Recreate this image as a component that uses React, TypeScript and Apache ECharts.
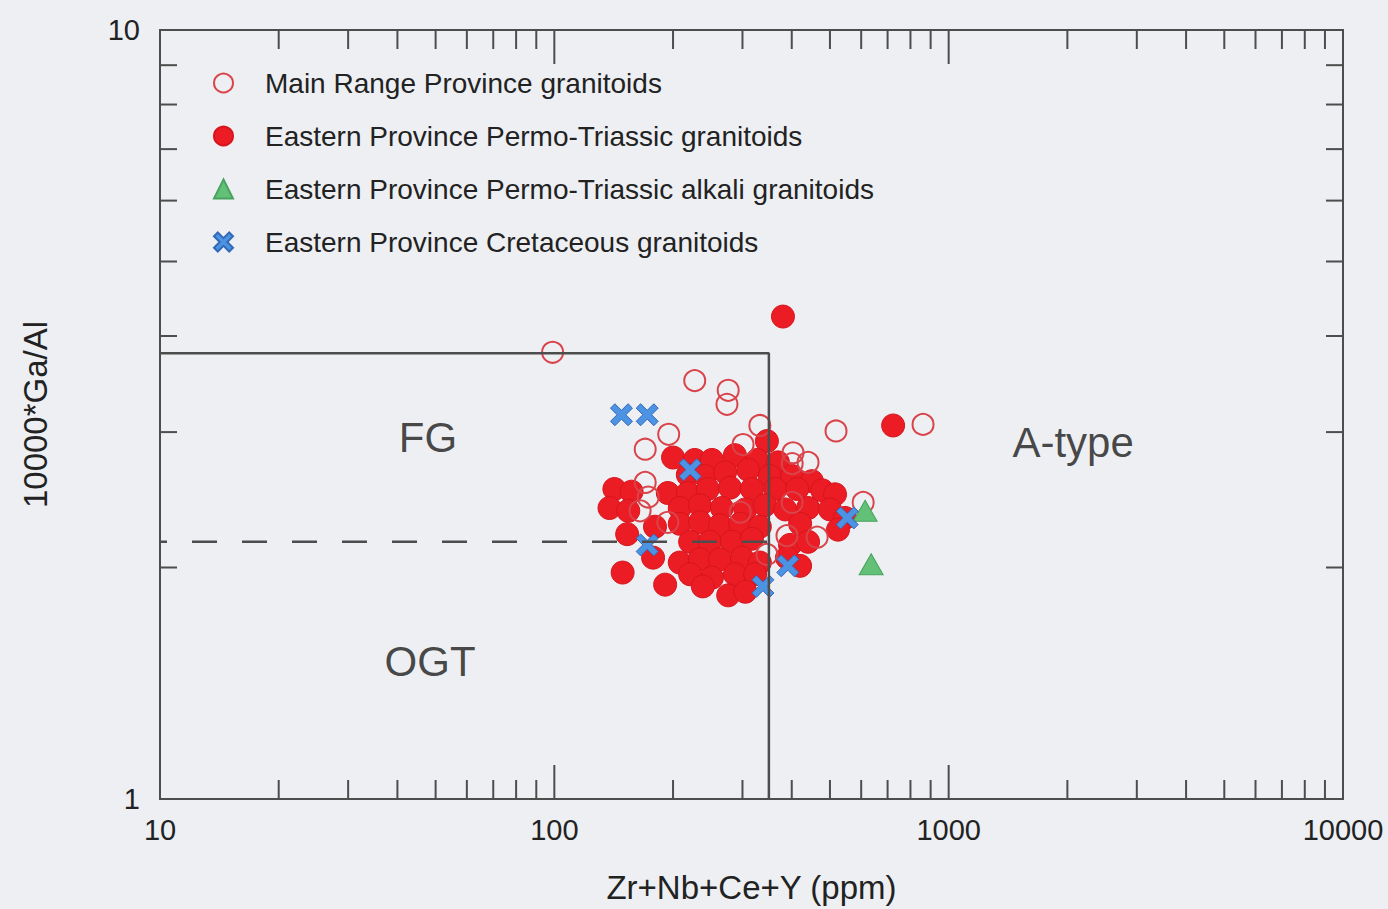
import React, { useEffect, useRef } from "react";
import * as echarts from "echarts";

const FONT = "'Liberation Sans', Arial, Helvetica, sans-serif";

// Series names
const seriesNames = [
  "Main Range Province granitoids",
  "Eastern Province Permo-Triassic granitoids",
  "Eastern Province Permo-Triassic alkali granitoids",
  "Eastern Province Cretaceous granitoids",
];

// [Zr+Nb+Ce+Y (ppm), 10000*Ga/Al]
const mainRange = [
  [99, 3.81], [227, 3.5], [276, 3.4], [274, 3.26], [332, 3.06], [195, 2.98],
  [170, 2.85], [518, 3.01], [861, 3.07], [301, 2.89], [403, 2.82], [440, 2.74],
  [401, 2.73], [170, 2.58], [173, 2.47], [165, 2.37], [194, 2.29], [607, 2.43],
  [464, 2.19], [389, 2.2], [346, 2.08], [401, 2.43], [296, 2.36],
];

const easternPT = [
  [380, 4.24], [723, 3.06],
  [346, 2.92],
  [200, 2.78], [227, 2.76], [251, 2.76], [287, 2.8], [327, 2.76], [369, 2.74],
  [218, 2.64], [241, 2.63], [271, 2.66], [310, 2.68], [352, 2.63], [401, 2.63], [450, 2.59],
  [142, 2.53], [157, 2.51], [194, 2.5], [218, 2.5], [245, 2.53], [279, 2.54], [317, 2.53],
  [363, 2.53], [413, 2.53], [478, 2.52], [515, 2.49],
  [138, 2.39], [154, 2.37], [208, 2.39], [234, 2.41], [266, 2.39], [305, 2.38], [342, 2.41],
  [385, 2.38], [440, 2.39], [500, 2.38], [546, 2.32],
  [180, 2.26], [208, 2.28], [234, 2.29], [263, 2.27], [296, 2.28], [332, 2.26], [420, 2.28], [524, 2.24],
  [153, 2.21], [221, 2.16], [248, 2.16], [282, 2.16], [317, 2.18], [396, 2.14], [440, 2.16],
  [178, 2.06], [208, 2.03], [234, 2.05], [263, 2.05], [299, 2.06], [332, 2.03], [389, 2.06], [420, 2.01],
  [149, 1.97], [191, 1.9], [221, 1.96], [251, 1.94], [287, 1.96], [323, 1.96],
  [238, 1.89], [276, 1.84], [305, 1.86],
];

const easternAlkali = [
  [614, 2.37], [636, 2.02],
];

const easternCret = [
  [148, 3.16], [172, 3.16], [221, 2.68], [172, 2.14], [553, 2.32], [391, 2.01], [338, 1.89],
];

// Field boundaries
const fgBoundary = [[10, 3.8], [350, 3.8], [350, 1]];
const ogtBoundary = [[10, 2.16], [350, 2.16]];

// Field labels
const fieldLabels = [
  { name: "FG", value: [47.8, 2.95] },
  { name: "OGT", value: [48.4, 1.508] },
  { name: "A-type", value: [2068, 2.905] },
];

// Tick positions
const xMinorTicks = [20, 30, 40, 50, 60, 70, 80, 90, 200, 300, 400, 500, 600, 700, 800, 900,
  2000, 3000, 4000, 5000, 6000, 7000, 8000, 9000];
const xMajorTicks = [100, 1000];
const yMinorTicks = [2, 3, 4, 5, 6, 7, 8, 9];

const CROSS = "path://M2,0 L5,3 L8,0 L10,2 L7,5 L10,8 L8,10 L5,7 L2,10 L0,8 L3,5 L0,2 Z";
const AXIS_COLOR = "#4d4d4d";
const TEXT_COLOR = "#222222";

export default function App() {
  const ref = useRef<HTMLDivElement>(null);

  useEffect(() => {
    if (!ref.current) return;
    const chart = echarts.init(ref.current, null, { renderer: "svg" });

    const xTickData = [
      ...xMinorTicks.map((v) => [v, 1, 0]),
      ...xMajorTicks.map((v) => [v, 1, 1]),
    ];
    const yTickData = yMinorTicks.map((v) => [10, v, 0]);

    const option: any = {
      animation: false,
      backgroundColor: "transparent",
      textStyle: { fontFamily: FONT },
      grid: {
        left: 160,
        right: 45,
        top: 30,
        bottom: 106,
        show: true,
        borderColor: AXIS_COLOR,
        borderWidth: 2,
        backgroundColor: "transparent",
      },
      legend: {
        orient: "vertical",
        left: 208,
        top: 64,
        itemWidth: 19,
        itemHeight: 19,
        itemGap: 25,
        data: seriesNames,
        selectedMode: false,
        textStyle: {
          fontSize: 28,
          color: TEXT_COLOR,
          fontFamily: FONT,
          padding: [0, 0, 0, 27],
          lineHeight: 19,
        },
      },
      xAxis: {
        type: "log",
        logBase: 10,
        min: 10,
        max: 10000,
        name: "Zr+Nb+Ce+Y (ppm)",
        nameLocation: "middle",
        nameGap: 72,
        nameTextStyle: { fontSize: 33, color: TEXT_COLOR, fontFamily: FONT },
        axisLine: { show: false },
        axisTick: { show: false },
        splitLine: { show: false },
        axisLabel: {
          fontSize: 29,
          color: TEXT_COLOR,
          margin: 16,
          fontFamily: FONT,
          formatter: (v: number) => String(Math.round(v)),
        },
      },
      yAxis: {
        type: "log",
        logBase: 10,
        min: 1,
        max: 10,
        name: "10000*Ga/Al",
        nameLocation: "middle",
        nameGap: 108,
        nameRotate: 90,
        nameTextStyle: { fontSize: 33, color: TEXT_COLOR, fontFamily: FONT },
        axisLine: { show: false },
        axisTick: { show: false },
        splitLine: { show: false },
        axisLabel: {
          fontSize: 29,
          color: TEXT_COLOR,
          margin: 20,
          fontFamily: FONT,
          formatter: (v: number) => String(Math.round(v)),
        },
      },
      series: [
        {
          name: "xTicks",
          type: "custom",
          silent: true,
          encode: { x: 0, y: 1 },
          data: xTickData,
          renderItem: (params: any, api: any) => {
            const cs = params.coordSys;
            const x = api.coord([api.value(0), 1])[0];
            const len = api.value(2) ? 34 : 19;
            const st = { stroke: AXIS_COLOR, lineWidth: 2 };
            return {
              type: "group",
              children: [
                { type: "line", shape: { x1: x, y1: cs.y + cs.height, x2: x, y2: cs.y + cs.height - len }, style: st },
                { type: "line", shape: { x1: x, y1: cs.y, x2: x, y2: cs.y + len }, style: st },
              ],
            };
          },
        },
        {
          name: "yTicks",
          type: "custom",
          silent: true,
          encode: { x: 0, y: 1 },
          data: yTickData,
          renderItem: (params: any, api: any) => {
            const cs = params.coordSys;
            const y = api.coord([10, api.value(1)])[1];
            const len = 17;
            const st = { stroke: AXIS_COLOR, lineWidth: 2 };
            return {
              type: "group",
              children: [
                { type: "line", shape: { x1: cs.x, y1: y, x2: cs.x + len, y2: y }, style: st },
                { type: "line", shape: { x1: cs.x + cs.width, y1: y, x2: cs.x + cs.width - len, y2: y }, style: st },
              ],
            };
          },
        },
        {
          name: "FG boundary",
          type: "line",
          data: fgBoundary,
          symbol: "none",
          silent: true,
          lineStyle: { color: AXIS_COLOR, width: 2.5 },
        },
        {
          name: "OGT boundary",
          type: "line",
          data: ogtBoundary,
          symbol: "none",
          silent: true,
          lineStyle: { color: AXIS_COLOR, width: 2.5, type: [25, 25], dashOffset: 18 },
        },
        {
          name: "Field labels",
          type: "scatter",
          data: fieldLabels,
          symbolSize: 0,
          silent: true,
          label: {
            show: true,
            position: "inside",
            formatter: "{b}",
            fontSize: 42,
            color: "#1a1a1a",
            fontFamily: FONT,
          },
        },
        {
          name: seriesNames[1],
          type: "scatter",
          data: easternPT,
          symbol: "circle",
          symbolSize: 23,
          itemStyle: { color: "#ec1c24", borderColor: "#d7141c", borderWidth: 1, opacity: 1 },
        },
        {
          name: seriesNames[0],
          type: "scatter",
          data: mainRange,
          symbol: "circle",
          symbolSize: 21,
          itemStyle: { color: "rgba(0,0,0,0)", borderColor: "#d9434a", borderWidth: 2, opacity: 1 },
        },
        {
          name: seriesNames[2],
          type: "scatter",
          data: easternAlkali,
          symbol: "triangle",
          symbolSize: [24, 21],
          itemStyle: { color: "#62c077", borderColor: "#48a35e", borderWidth: 1, opacity: 1 },
        },
        {
          name: seriesNames[3],
          type: "scatter",
          data: easternCret,
          symbol: CROSS,
          symbolSize: 22,
          itemStyle: { color: "#4d93e3", borderColor: "#3468b8", borderWidth: 1, opacity: 1 },
        },
      ],
    };

    chart.setOption(option);
    return () => chart.dispose();
  }, []);

  return (
    <div
      style={{
        position: "fixed",
        left: 0,
        top: 0,
        width: 1388,
        height: 909,
        background: "#edeff2",
      }}
    >
      <div ref={ref} style={{ width: 1388, height: 909 }} />
    </div>
  );
}
